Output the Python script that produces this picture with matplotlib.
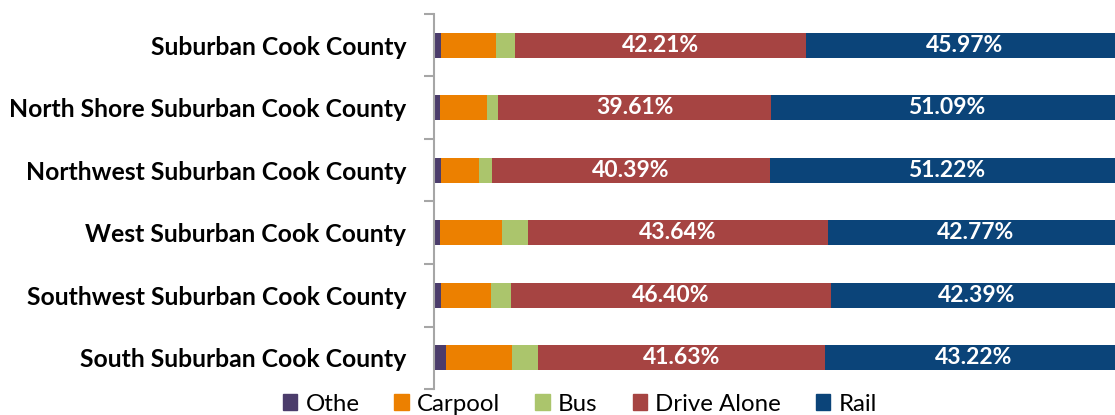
import numpy as np
import matplotlib
matplotlib.use("Agg")
import matplotlib.pyplot as plt
from matplotlib.patches import Patch

plt.rcParams['font.family'] = ['Lato', 'DejaVu Sans']

regions = ["Suburban Cook County", "North Shore Suburban Cook County",
           "Northwest Suburban Cook County", "West Suburban Cook County",
           "Southwest Suburban Cook County", "South Suburban Cook County"]
other = [1.0, 0.85, 1.0, 0.85, 1.0, 1.7]
carpool = [7.95, 6.85, 5.6, 9.0, 7.3, 9.55]
bus = [2.87, 1.6, 1.79, 3.74, 2.91, 3.9]
drive_alone = [42.21, 39.61, 40.39, 43.64, 46.40, 41.63]
rail = [45.97, 51.09, 51.22, 42.77, 42.39, 43.22]

series = [("Othe", other, "#4B3C6B"), ("Carpool", carpool, "#EC8000"),
          ("Bus", bus, "#ABC56C"), ("Drive Alone", drive_alone, "#A64442"),
          ("Rail", rail, "#0B4479")]
labelled = ["Drive Alone", "Rail"]

W, H = 1115, 415
fig = plt.figure(figsize=(W / 100, H / 100), dpi=100)
# the plot area runs a little past the right edge, as in the original
ax = fig.add_axes([434 / W, 26 / H, 689 / W, 375 / H])

y = np.arange(len(regions))
left = np.zeros(len(regions))
for name, vals, col in series:
    bars = ax.barh(y, vals, left=left, height=0.4, color=col, label=name)
    if name in labelled:
        ax.bar_label(bars, labels=["%.2f%%" % v for v in vals], label_type="center",
                     color="white", fontsize=16.5, fontweight="bold")
    left += np.array(vals)

ax.set_xlim(0, 100)
ax.set_ylim(len(regions) - 0.5, -0.5)
ax.set_yticks(y)
ax.set_yticklabels(regions, fontsize=17.8, fontweight="bold")
ax.tick_params(axis="y", which="major", length=0, pad=20)
ax.set_yticks(np.arange(len(regions) + 1) - 0.5, minor=True)
ax.tick_params(axis="y", which="minor", length=7, width=1.5, color="#A6A6A6")
ax.set_xticks([])
for s in ["top", "right", "bottom"]:
    ax.spines[s].set_visible(False)
ax.spines["left"].set_color("#A6A6A6")
ax.spines["left"].set_linewidth(1.5)

handles = [Patch(color=c, label=n) for n, v, c in series]
fig.legend(handles=handles, loc="center", bbox_to_anchor=(580 / W, 11 / H), ncol=5,
           frameon=False, fontsize=17.3, handlelength=0.6, handleheight=0.6,
           handletextpad=0.35, columnspacing=1.45, borderpad=0)

fig.savefig("out.png", dpi=100)
